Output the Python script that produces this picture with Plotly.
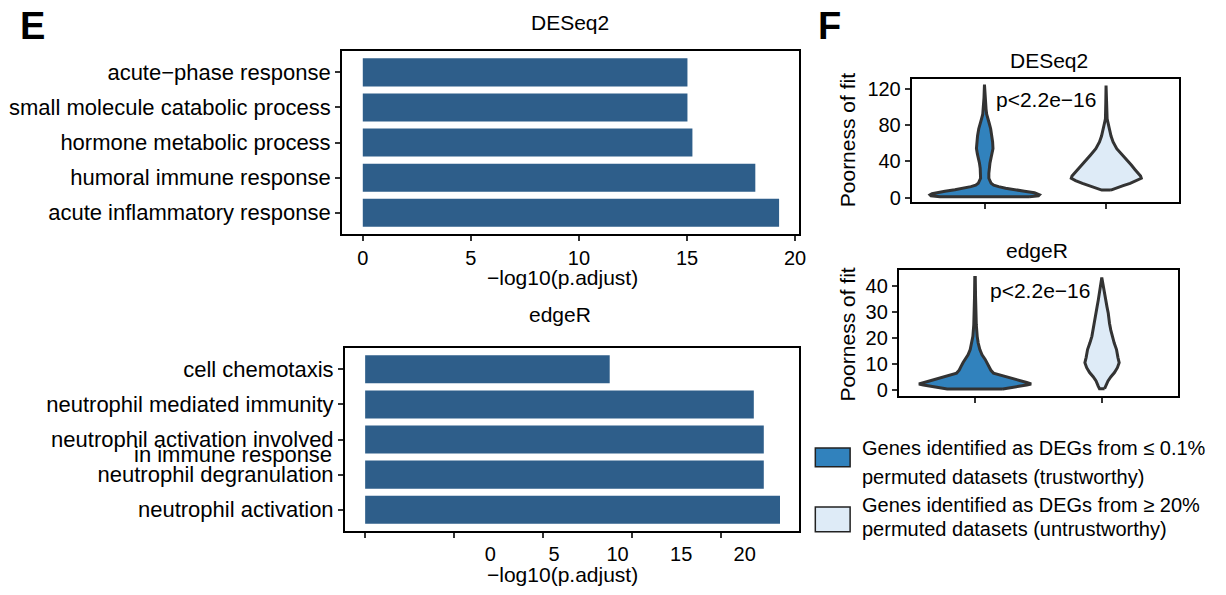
import plotly.graph_objects as go

W, H = 1226, 595
FONT = "Liberation Sans, Arial, Helvetica, sans-serif"

# ---------------- Panel E : GO enrichment bars ----------------
deseq2_terms = ["acute−phase response", "small molecule catabolic process",
                "hormone metabolic process", "humoral immune response",
                "acute inflammatory response"]
deseq2_values = [15.02, 15.02, 15.25, 18.16, 19.26]

edger_terms = ["cell chemotaxis", "neutrophil mediated immunity",
               "neutrophil activation involved in immune response",
               "neutrophil degranulation", "neutrophil activation"]
# the long term is printed on two lines
edger_term_line1 = ["cell chemotaxis", "neutrophil mediated immunity",
                    "neutrophil activation involved", "neutrophil degranulation",
                    "neutrophil activation"]
edger_term_line2 = "in immune response"
edger_values = [13.73, 21.82, 22.38, 22.38, 23.29]

bar_tick_values = [0, 5, 10, 15, 20]
bar_tick_labels = ["0", "5", "10", "15", "20"]

# ---------------- Panel F : violin density profiles ----------------
violin_groups = [0, 1]  # trustworthy, untrustworthy
# DESeq2 trustworthy
deseq2_trust_level = [1.2, 2.2, 3.3, 4.6, 5.6, 7.3, 8.9, 10.6, 12.3, 14, 16, 21.5, 27, 32.4,
                      38, 43.3, 48, 54.2, 61.4, 68, 76, 82, 86.9, 92, 97.8, 110, 124.5]
deseq2_trust_hw = [0.368, 0.442, 0.450, 0.433, 0.409, 0.327, 0.245, 0.172, 0.114, 0.074,
                   0.053, 0.034, 0.034, 0.037, 0.043, 0.051, 0.060, 0.068, 0.065, 0.059,
                   0.049, 0.037, 0.026, 0.016, 0.011, 0.006, 0.002]
# DESeq2 untrustworthy
deseq2_untrust_level = [8.5, 9.5, 11.2, 13.4, 16, 19, 21.5, 24, 26.9, 31, 36, 41, 46.9, 54,
                        61.4, 68, 76, 82, 86.9, 95, 105, 123.5]
deseq2_untrust_hw = [0.037, 0.061, 0.094, 0.139, 0.196, 0.253, 0.288, 0.282, 0.266, 0.237,
                     0.206, 0.172, 0.131, 0.086, 0.056, 0.039, 0.025, 0.015, 0.007, 0.005,
                     0.004, 0.002]
# edgeR trustworthy
edger_trust_level = [0.3, 0.7, 1.3, 1.8, 2.2, 2.8, 3.5, 4.7, 5.6, 6.4, 7.5, 9, 10.5, 11.7,
                     13.5, 15.5, 18, 20.6, 25, 30, 36, 43.3]
edger_trust_hw = [0.219, 0.282, 0.345, 0.407, 0.442, 0.407, 0.352, 0.266, 0.204, 0.145,
                  0.125, 0.110, 0.094, 0.080, 0.055, 0.038, 0.025, 0.017, 0.010, 0.006,
                  0.004, 0.002]
# edgeR untrustworthy
edger_untrust_level = [0.4, 1.5, 3.4, 5, 6.6, 8.5, 10.4, 12.5, 15.5, 18, 20.6, 23, 25.6,
                       27.5, 29.5, 32, 34.5, 37, 39.6, 42, 43.3]
edger_untrust_hw = [0.020, 0.031, 0.047, 0.070, 0.098, 0.121, 0.135, 0.125, 0.114, 0.096,
                    0.080, 0.069, 0.059, 0.055, 0.049, 0.039, 0.030, 0.021, 0.012, 0.006,
                    0.002]

deseq2_yticks = [0, 40, 80, 120]
edger_yticks = [0, 10, 20, 30, 40]

legend_lines = [["Genes identified as DEGs from ≤ 0.1%", "permuted datasets (trustworthy)"],
                ["Genes identified as DEGs from ≥ 20%", "permuted datasets (untrustworthy)"]]

BAR = "#2E5E8A"
TRUST = "#3182BD"
UNTRUST = "#DEEBF7"
OUTLINE = "#333333"


def dx(p):
    return p / W


def dy(p):
    return 1 - p / H


def xdom(a, b):
    return [dx(a), dx(b)]


def ydom(top, bottom):
    return [dy(bottom), dy(top)]


fig = go.Figure()

fig.add_trace(go.Bar(x=deseq2_values, y=deseq2_terms, orientation="h", width=0.8,
                     marker=dict(color=BAR, line=dict(width=0)),
                     xaxis="x", yaxis="y", showlegend=False))
fig.add_trace(go.Bar(x=edger_values, y=edger_terms, orientation="h", width=0.8,
                     marker=dict(color=BAR, line=dict(width=0)),
                     xaxis="x2", yaxis="y2", showlegend=False))
# invisible trace carrying the (shifted) tick-label axis of the edgeR bar panel
fig.add_trace(go.Scatter(x=[None], y=[None], xaxis="x5", yaxis="y2",
                         showlegend=False, hoverinfo="skip"))


def violin(center, levels, hw, color, xa, ya):
    xs = [center + w for w in hw] + [center - w for w in reversed(hw)]
    ys = list(levels) + list(reversed(levels))
    xs.append(xs[0])
    ys.append(ys[0])
    fig.add_trace(go.Scatter(x=xs, y=ys, mode="lines", fill="toself", fillcolor=color,
                             line=dict(color=OUTLINE, width=3), xaxis=xa, yaxis=ya,
                             showlegend=False, hoverinfo="skip"))


violin(violin_groups[0], deseq2_trust_level, deseq2_trust_hw, TRUST, "x3", "y3")
violin(violin_groups[1], deseq2_untrust_level, deseq2_untrust_hw, UNTRUST, "x3", "y3")
violin(violin_groups[0], edger_trust_level, edger_trust_hw, TRUST, "x4", "y4")
violin(violin_groups[1], edger_untrust_level, edger_untrust_hw, UNTRUST, "x4", "y4")

frame = dict(showline=True, linecolor="black", linewidth=2, mirror=True,
             showgrid=False, zeroline=False, ticks="outside", ticklen=5,
             tickwidth=2, tickcolor=OUTLINE)
tickfont = dict(family=FONT, size=20, color="black")
catfont = dict(family=FONT, size=22, color="black")

fig.update_layout(
    width=W, height=H, margin=dict(l=0, r=0, t=0, b=0),
    paper_bgcolor="white", plot_bgcolor="white",
    font=dict(family=FONT, size=20, color="black"),
    showlegend=False,
    xaxis=dict(domain=xdom(344, 804), anchor="y", range=[-0.96, 20.2],
               tickvals=bar_tick_values, ticktext=bar_tick_labels, tickfont=tickfont, **frame),
    yaxis=dict(domain=ydom(51, 236), anchor="x", type="category",
               categoryorder="array", categoryarray=deseq2_terms, range=[4.6, -0.6],
               tickfont=catfont, **frame),
    xaxis2=dict(domain=xdom(347, 804), anchor="y2", range=[-1.13, 24.38],
                tickvals=bar_tick_values, showticklabels=False, **frame),
    yaxis2=dict(domain=ydom(352, 537), anchor="x2", type="category",
                categoryorder="array", categoryarray=edger_terms, range=[4.6, -0.6],
                tickvals=edger_terms, ticktext=edger_term_line1,
                tickfont=catfont, **frame),
    xaxis5=dict(domain=xdom(347, 804), anchor="y2", overlaying="x2", side="bottom",
                range=[-11.43, 24.3], tickvals=bar_tick_values, ticktext=bar_tick_labels,
                showline=False, showgrid=False, zeroline=False, ticks="outside",
                ticklen=5, tickcolor="rgba(0,0,0,0)", tickfont=tickfont),
    xaxis3=dict(domain=xdom(917, 1186), anchor="y3", range=[-0.6, 1.6],
                tickvals=violin_groups, showticklabels=False, **frame),
    yaxis3=dict(domain=ydom(79, 203.5), anchor="x3", range=[-4.3, 130.7],
                tickvals=deseq2_yticks, tickfont=tickfont, **frame),
    xaxis4=dict(domain=xdom(904, 1185), anchor="y4", range=[-0.6, 1.6],
                tickvals=violin_groups, showticklabels=False, **frame),
    yaxis4=dict(domain=ydom(273, 400), anchor="x4", range=[-2.29, 46.1],
                tickvals=edger_yticks, tickfont=tickfont, **frame),
)


def note(text, x, y, size=20, angle=0, bold=False, xanchor="center"):
    fig.add_annotation(text=f"<b>{text}</b>" if bold else text, x=dx(x), y=dy(y),
                       xref="paper", yref="paper", showarrow=False, textangle=angle,
                       xanchor=xanchor, yanchor="middle",
                       font=dict(family=FONT, size=size, color="black"))


note("E", 33, 25, size=38, bold=True)
note("F", 834, 25, size=38, bold=True)
note("DESeq2", 573, 22, size=21)
note("edgeR", 563, 318, size=21)
note("−log10(p.adjust)", 566, 280, size=21)
note("−log10(p.adjust)", 566, 581, size=21)
note("DESeq2", 1055, 60, size=21)
note("edgeR", 1043, 253, size=21)
note("p<2.2e−16", 1052, 100, size=21)
note("p<2.2e−16", 1046, 293, size=21)
note("Poorness of fit", 852, 141, size=21, angle=-90)
note("Poorness of fit", 852, 338, size=21, angle=-90)

# second line of the two-line edgeR term, right-aligned under its tick label
fig.add_annotation(text=edger_term_line2, x=dx(336), y=2, xref="paper", yref="y2",
                   showarrow=False, xanchor="right", yanchor="middle", yshift=-15,
                   font=catfont)

# legend keys and labels
key_boxes = [(453, 472), (513, 538)]
key_colors = [TRUST, UNTRUST]
line_y = [(453, 482), (511, 535)]
for (t, b), col, lines, ys in zip(key_boxes, key_colors, legend_lines, line_y):
    fig.add_shape(type="rect", xref="paper", yref="paper", x0=dx(820), x1=dx(855),
                  y0=dy(b), y1=dy(t), fillcolor=col, line=dict(color="#222222", width=1.5))
    for txt, yy in zip(lines, ys):
        note(txt, 865, yy, size=20, xanchor="left")

fig.write_html("out.html")
